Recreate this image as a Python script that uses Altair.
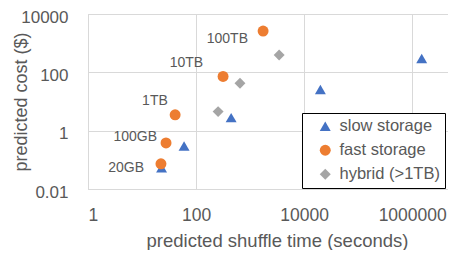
import altair as alt
import pandas as pd

series_names = ["slow storage", "fast storage", "hybrid (>1TB)"]
series_colors = ["#4472C4", "#ED7D31", "#A5A5A5"]
series_shapes = ["triangle-up", "circle", "diamond"]

slow_time = [23, 60, 446, 20000, 1500000]
slow_cost = [0.053, 0.30, 2.8, 25.7, 300]

fast_time = [22.4, 27.8, 41, 316, 1740]
fast_cost = [0.073, 0.38, 3.5, 72, 2600]

hybrid_time = [256, 650, 3450]
hybrid_cost = [4.5, 42, 390]

size_labels = ["20GB", "100GB", "1TB", "10TB", "100TB"]
label_time = [10.9, 19, 30, 135, 915]
label_cost = [0.053, 0.62, 10.8, 204, 1380]

x_ticks = [1, 100, 10000, 1000000]
y_ticks = [0.01, 1, 100, 10000]

rows = []
for name, xs, ys in [
    (series_names[0], slow_time, slow_cost),
    (series_names[1], fast_time, fast_cost),
    (series_names[2], hybrid_time, hybrid_cost),
]:
    for x, y in zip(xs, ys):
        rows.append({"series": name, "time": x, "cost": y})
points_df = pd.DataFrame(rows)
labels_df = pd.DataFrame({"label": size_labels, "time": label_time, "cost": label_cost})

FONT = "Liberation Sans"
GRAY = "#595959"

x_scale = alt.Scale(type="log", domain=[1, 4.6e6], nice=False)
y_scale = alt.Scale(type="log", domain=[0.01, 10000], nice=False)

label_expr = "datum.value >= 1 ? format(datum.value, 'd') : format(datum.value, '.2f')"

points = alt.Chart(points_df).mark_point(filled=True, opacity=1, size=120).encode(
    x=alt.X("time:Q", scale=x_scale,
            axis=alt.Axis(values=x_ticks, labelExpr=label_expr, title="predicted shuffle time (seconds)",
                          grid=True, ticks=False, domain=True, domainColor="#D9D9D9",
                          gridColor="#D9D9D9", labelFontSize=17.5, labelColor=GRAY, labelFont=FONT,
                          labelPadding=17, titleFontSize=18.5, titleFont=FONT, titleColor=GRAY,
                          titleFontWeight="normal", titleY=51, titleBaseline="middle", titleX=189)),
    y=alt.Y("cost:Q", scale=y_scale,
            axis=alt.Axis(values=y_ticks, labelExpr=label_expr, title="predicted cost ($)",
                          grid=True, ticks=False, domain=True, domainColor="#D9D9D9",
                          gridColor="#D9D9D9", labelFontSize=17, labelColor=GRAY, labelFont=FONT,
                          labelPadding=20, labelOffset=3, titleFontSize=18, titleFont=FONT,
                          titleColor=GRAY, titleFontWeight="normal", titleX=-67,
                          titleBaseline="middle")),
    color=alt.Color("series:N", scale=alt.Scale(domain=series_names, range=series_colors),
                    legend=alt.Legend(title=None, orient="none", legendX=214, legendY=99,
                                      strokeColor="black", fillColor="white",
                                      padding=5, symbolOffset=10, labelFontSize=16.5, labelFont=FONT,
                                      labelColor=GRAY, symbolSize=120, rowPadding=7, labelOffset=6)),
    shape=alt.Shape("series:N", scale=alt.Scale(domain=series_names, range=series_shapes)),
)

labels = alt.Chart(labels_df).mark_text(align="right", baseline="middle", fontSize=14,
                                         font=FONT, color=GRAY).encode(
    x=alt.X("time:Q", scale=x_scale),
    y=alt.Y("cost:Q", scale=y_scale),
    text="label:N",
)

chart = alt.layer(labels, points).properties(
    width=360, height=175,
    autosize=alt.AutoSizeParams(type="none"),
    padding={"left": 80, "top": 6, "right": 0, "bottom": 61},
).configure_view(stroke=None).configure(background="white")

chart.save("out.html", embed_options={"renderer": "svg", "actions": False})
